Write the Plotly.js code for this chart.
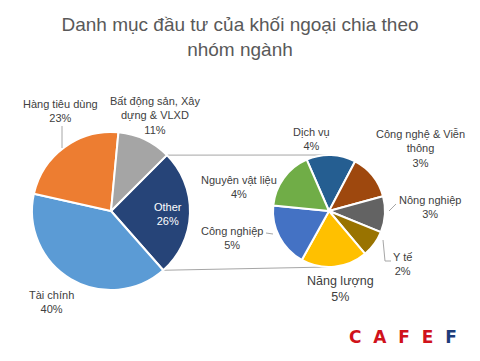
<!DOCTYPE html>
<html><head><meta charset="utf-8">
<script src="https://cdn.plot.ly/plotly-3.0.1.min.js"></script>
<style>html,body{margin:0;padding:0;background:#fff}#chart{width:480px;height:361px}</style>
</head><body><div id="chart"></div>
<script>
// ---- data ----
const mainLabels = ['Other', 'Tài chính', 'Hàng tiêu dùng', 'Bất động sản, Xây dựng & VLXD'];
const mainValues = [26, 40, 23, 11];
const mainLabelText = ['Other', 'Tài chính', 'Hàng tiêu dùng', 'Bất động sản, Xây<br>dựng & VLXD'];
const subLabels = ['Dịch vụ', 'Công nghệ & Viễn thông', 'Nông nghiệp', 'Y tế', 'Năng lượng', 'Công nghiệp', 'Nguyên vật liệu'];
const subValues = [3.7, 3.4, 2.7, 2.0, 5.0, 4.8, 4.4];
const subLabelText = ['Dịch vụ', 'Công nghệ & Viễn<br>thông', 'Nông nghiệp', 'Y tế', 'Năng lượng', 'Công nghiệp', 'Nguyên vật liệu'];
const titleText = 'Danh mục đầu tư của khối ngoại chia theo<br>nhóm ngành';

// ---- styles ----
const mainColors = ['#264478', '#5B9BD5', '#ED7D31', '#A5A5A5'];
const subColors = ['#255E91', '#9E480E', '#636363', '#997300', '#FFC000', '#4472C4', '#70AD47'];

// ---- geometry (pixels) ----
const W = 480, H = 361;
const mainC = {x: 111, y: 211, r: 79, rot: 45};
const subC = {x: 329, y: 211, r: 56, rot: -23.5};
const px = x => x / W;
const py = y => 1 - y / H;
function dom(c) { return {x: [px(c.x - c.r), px(c.x + c.r)], y: [py(c.y + c.r), py(c.y - c.r)]}; }

const mainLabelPos = [[168, 214], [51, 302], [60, 110.5], [155, 115]];
const subLabelPos = [[311, 139], [420, 148], [430, 206.5], [402, 264], [340, 289], [232, 238], [239, 187]];

const pct = v => Math.round(v) + '%';
const lblColor = '#404040';
const lblFont = 'Liberation Sans, Arial, sans-serif';

const annotations = [];
mainLabels.forEach((l, i) => {
  annotations.push({xref: 'paper', yref: 'paper', x: px(mainLabelPos[i][0]), y: py(mainLabelPos[i][1]),
    xanchor: 'center', yanchor: 'middle', showarrow: false, align: 'center',
    text: mainLabelText[i] + '<br>' + pct(mainValues[i]),
    font: {family: lblFont, size: 11, color: i === 0 ? '#ffffff' : lblColor}});
});
subLabels.forEach((l, i) => {
  annotations.push({xref: 'paper', yref: 'paper', x: px(subLabelPos[i][0]), y: py(subLabelPos[i][1]),
    xanchor: 'center', yanchor: 'middle', showarrow: false, align: 'center',
    text: subLabelText[i] + '<br>' + pct(subValues[i]),
    font: {family: lblFont, size: l === 'Năng lượng' ? 12.5 : 11, color: lblColor}});
});
// logo
annotations.push({xref: 'paper', yref: 'paper', x: px(403), y: py(337), xanchor: 'center', yanchor: 'middle',
  showarrow: false, text: '<b><span style="color:#d0121b">C  A  F  E </span><span style="color:#1d3c7a"> F</span></b>',
  font: {family: 'DejaVu Sans, sans-serif', size: 17}});

// connector lines from the "Other" slice edges to the secondary pie
const total = mainValues.reduce((a, b) => a + b, 0);
const a0 = mainC.rot * Math.PI / 180;
const a1 = (mainC.rot + 360 * mainValues[0] / total) * Math.PI / 180;
const pt = a => [mainC.x + mainC.r * Math.sin(a), mainC.y - mainC.r * Math.cos(a)];
const p0 = pt(a0), p1 = pt(a1);
const lineStyle = {color: '#A6A6A6', width: 1};
const shapes = [
  {type: 'line', xref: 'paper', yref: 'paper', layer: 'below', x0: px(p0[0]), y0: py(p0[1]), x1: px(subC.x), y1: py(subC.y - subC.r), line: lineStyle},
  {type: 'line', xref: 'paper', yref: 'paper', layer: 'below', x0: px(p1[0]), y0: py(p1[1]), x1: px(subC.x), y1: py(subC.y + subC.r), line: lineStyle},
];
// leader lines
function path(pts) {
  return {type: 'path', xref: 'paper', yref: 'paper', layer: 'above', line: lineStyle,
    path: pts.map((p, i) => (i ? 'L' : 'M') + px(p[0]) + ',' + py(p[1])).join(' ')};
}
shapes.push(path([[62, 126], [62, 148]]));
shapes.push(path([[396, 204], [389, 211]]));
shapes.push(path([[383, 240], [385, 261], [391, 261]]));
shapes.push(path([[266, 233], [273, 234]]));

const data = [
  {type: 'pie', labels: mainLabels, values: mainValues, sort: false, direction: 'clockwise', rotation: mainC.rot,
   domain: dom(mainC), marker: {colors: mainColors, line: {color: '#ffffff', width: 2}},
   textinfo: 'none', hoverinfo: 'none', showlegend: false},
  {type: 'pie', labels: subLabels, values: subValues, sort: false, direction: 'clockwise', rotation: subC.rot,
   domain: dom(subC), marker: {colors: subColors, line: {color: '#ffffff', width: 2}},
   textinfo: 'none', hoverinfo: 'none', showlegend: false}
];

const layout = {
  width: W, height: H, margin: {l: 0, r: 0, t: 0, b: 0},
  paper_bgcolor: '#ffffff', plot_bgcolor: '#ffffff', showlegend: false,
  title: {text: titleText, x: 0.5, xanchor: 'center', y: 1 - 31 / H, yanchor: 'top',
          font: {family: 'Liberation Sans, Arial, sans-serif', size: 19, color: '#595959'}},
  annotations: annotations, shapes: shapes
};
Plotly.newPlot('chart', data, layout, {displayModeBar: false, staticPlot: true});
</script></body></html>
